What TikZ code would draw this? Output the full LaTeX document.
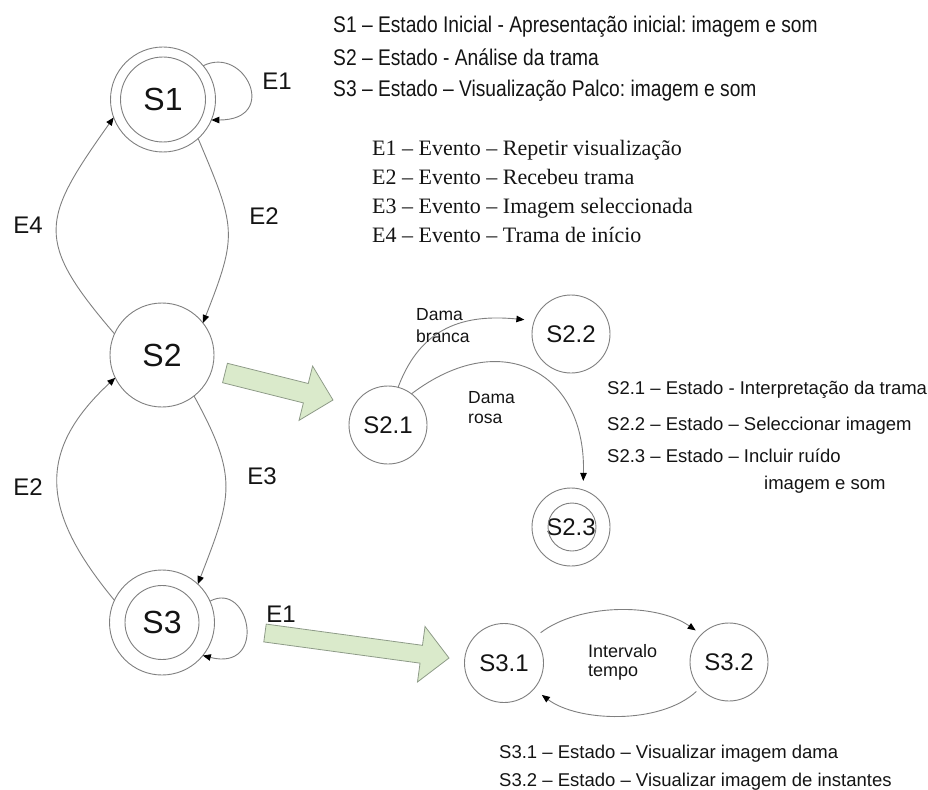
\documentclass[tikz,border=0pt]{standalone}
\usepackage{fontspec}
\setmainfont{Liberation Sans}
\newfontfamily\evfont{Liberation Serif}
\usetikzlibrary{arrows.meta}
\definecolor{linegray}{HTML}{7F7F7F}
\definecolor{arrowfill}{HTML}{DAEACB}
\definecolor{arrowedge}{HTML}{8E9B88}
\definecolor{ink}{HTML}{141414}
\newcommand{\tallline}[1]{\scalebox{1}[1.18]{#1}}
\frenchspacing
\begin{document}
\begin{tikzpicture}[x=1pt,y=-1pt,
  line/.style={draw=linegray, line width=0.9pt},
  bigstate/.style={circle, line, inner sep=0pt, outer sep=0pt, minimum size=105pt,
    text=ink, font=\fontsize{32}{36}\selectfont},
  substate/.style={circle, line, inner sep=0pt, outer sep=0pt, minimum size=78pt,
    text=ink, font=\fontsize{24}{28}\selectfont},
  trans/.style={line, -{Triangle[length=8pt,width=6.5pt,color=black]}},
  evlabel/.style={inner sep=0pt, text=ink, font=\fontsize{24}{28}\selectfont},
  guard/.style={inner sep=0pt, anchor=base west, text=ink, font=\fontsize{17.5}{20}\selectfont},
  legend/.style={inner sep=0pt, anchor=base west, text=ink, font=\fontsize{19.2}{23}\selectfont},
  sublegend/.style={inner sep=0pt, anchor=base west, text=ink, font=\fontsize{18.5}{22}\selectfont},
  evlegend/.style={inner sep=0pt, anchor=base west, text=ink, font=\evfont\fontsize{22}{26}\selectfont},
  bigarrow/.style={fill=arrowfill, draw=arrowedge, line width=0.8pt, line join=miter}
]
\useasboundingbox (0,0) rectangle (928,789);

% refinement arrows
\begin{scope}[shift={(225,373)}, rotate=-14.04]
  \path[bigarrow] (0,-10) -- (83.3,-10) -- (83.3,-28) -- (111.3,0) -- (83.3,28) -- (83.3,10) -- (0,10) -- cycle;
\end{scope}
\begin{scope}[shift={(265,633)}, rotate=-7.74]
  \path[bigarrow] (0,-9) -- (157.7,-9) -- (157.7,-28) -- (185.7,0) -- (157.7,28) -- (157.7,9) -- (0,9) -- cycle;
\end{scope}

% main states
\node[bigstate] (s1) at (163,99.5) {S1};
\draw[line] (s1.center) circle[radius=42.5pt];
\node[bigstate, minimum size=104pt] (s2) at (162,355) {S2};
\node[bigstate] (s3) at (162,622.5) {S3};
\draw[line] (s3.center) circle[radius=37pt];

% main transitions
\draw[trans] (s1.40) .. controls (245,45) and (280,120) .. (s1.-23);
\draw[trans] (s1.-48) .. controls (236,228) and (238,234) .. (s2.38);
\draw[trans] (s2.156) .. controls (34,240) and (41,220) .. (s1.200);
\draw[trans] (s3.155) .. controls (44,515) and (33,454) .. (s2.206);
\draw[trans] (s2.-52) .. controls (239,478) and (232,496) .. (s3.47);
\draw[trans] (s3.24) .. controls (250,580) and (268,672) .. (s3.-39);

\node[evlabel] (e1a) at (277,81) {E1};
\node[evlabel] (e2a) at (264,216) {E2};
\node[evlabel] (e4)  at (28,225) {E4};
\node[evlabel] (e2b) at (28,487) {E2};
\node[evlabel] (e3)  at (262,476) {E3};
\node[evlabel] (e1b) at (281,614) {E1};

% S2 refinement
\node[substate] (s21) at (388,425) {S2.1};
\node[substate] (s22) at (571,334) {S2.2};
\node[substate] (s23) at (571,527) {S2.3};
\draw[line] (572,527) circle[radius=24pt];
\draw[trans, shorten >=10pt] (s21.75) .. controls (421,326) and (465,314) .. (s22.160);
\draw[trans, shorten >=9pt] (s21.53) .. controls (501,326) and (586,371) .. (s23.72);
\node[guard] (g1) at (416,320) {Dama};
\node[guard] (g2) at (416,342) {branca};
\node[guard] (g3) at (468,403) {Dama};
\node[guard] (g4) at (468,423) {rosa};

% S3 refinement
\node[substate, minimum size=79pt] (s31) at (504,663) {S3.1};
\node[substate] (s32) at (729,662) {S3.2};
\draw[trans, shorten <=8pt, shorten >=7pt] (s31.40) .. controls (578,604) and (655,602) .. (s32.135);
\draw[trans, shorten <=5pt, shorten >=10pt] (s32.222) .. controls (660,725) and (578,722) .. (s31.-41);
\node[guard, font=\fontsize{18}{21}\selectfont] (g5) at (588,657) {Intervalo};
\node[guard, font=\fontsize{18}{21}\selectfont] (g6) at (588,676) {tempo};

% legends
\node[legend] (l1) at (333,33) {\tallline{S1 – Estado Inicial - Apresentação inicial: imagem e som}};
\node[legend] (l2) at (333,66) {\tallline{S2 – Estado - Análise da trama}};
\node[legend] (l3) at (333,97) {\tallline{S3 – Estado – Visualização Palco: imagem e som}};

\node[evlegend] (le1) at (372,155) {E1 – Evento – Repetir visualização};
\node[evlegend] (le2) at (372,184) {E2 – Evento – Recebeu trama};
\node[evlegend] (le3) at (372,213) {E3 – Evento – Imagem seleccionada};
\node[evlegend] (le4) at (372,242) {E4 – Evento – Trama de início};

\node[sublegend] (m1) at (607,394) {S2.1 – Estado - Interpretação da trama};
\node[sublegend] (m2) at (607,430) {S2.2 – Estado – Seleccionar imagem};
\node[sublegend] (m3) at (607,462) {S2.3 – Estado – Incluir ruído};
\node[sublegend] (m4) at (764,489) {imagem e som};

\node[sublegend] (n1) at (499,758) {S3.1 – Estado – Visualizar imagem dama};
\node[sublegend] (n2) at (499,786) {S3.2 – Estado – Visualizar imagem de instantes};
\end{tikzpicture}
\end{document}
